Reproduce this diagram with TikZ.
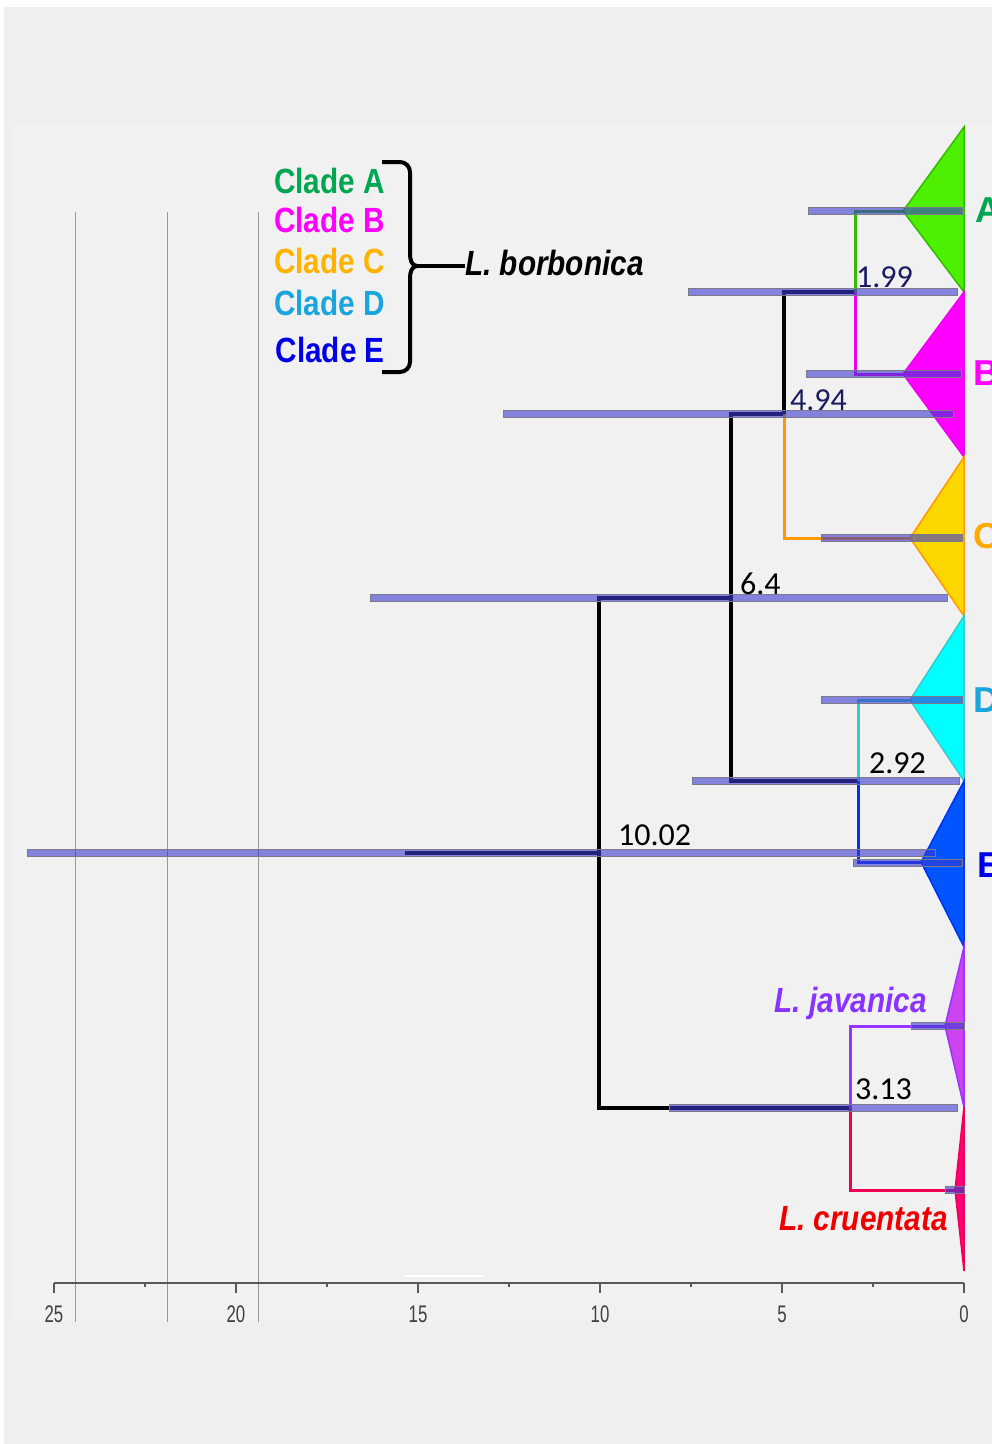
\documentclass[tikz,border=0pt]{standalone}
\usepackage{fontspec}
\setmainfont{Liberation Sans}
\newfontfamily\numfont{Carlito}
\usetikzlibrary{calc}

\definecolor{bggray}{HTML}{EFEFEF}
\definecolor{panel}{HTML}{F1F1F1}
\definecolor{hpdfill}{HTML}{3A3AD0}
\definecolor{hpdedge}{HTML}{7A7A8A}
\definecolor{navytext}{HTML}{1B1B63}
\definecolor{cladeA}{HTML}{00A651}
\definecolor{cladeB}{HTML}{FF00FF}
\definecolor{cladeC}{HTML}{FFAA00}
\definecolor{legC}{HTML}{FFB300}
\definecolor{cladeD}{HTML}{1AA6DC}
\definecolor{cladeE}{HTML}{0000E6}
\definecolor{javcol}{HTML}{8833FF}
\definecolor{crucol}{HTML}{EE0000}
% clade triangles and branches
\definecolor{fillA}{HTML}{4CF000}
\definecolor{lineA}{HTML}{33BB00}
\definecolor{fillB}{HTML}{FF00FF}
\definecolor{lineB}{HTML}{EE00EE}
\definecolor{fillC}{HTML}{FFD700}
\definecolor{lineC}{HTML}{FF9900}
\definecolor{fillD}{HTML}{00FFFF}
\definecolor{lineD}{HTML}{33CCCC}
\definecolor{fillE}{HTML}{0055FF}
\definecolor{lineE}{HTML}{0033EE}
\definecolor{fillJ}{HTML}{CC44EE}
\definecolor{lineJ}{HTML}{9933FF}
\definecolor{fillR}{HTML}{FF0077}
\definecolor{lineR}{HTML}{EE0055}

% HPD bar: height #1, from #2 to #3
\def\HPD#1#2#3{%
	\filldraw[hpd bar] (#2,#1-3.5) rectangle (#3,#1+3.5);
}
% collapsed clade: top, apex x, apex y, bottom, colour suffix
\def\Clade#1#2#3#4#5{%
	\filldraw[fill=fill#5, draw=line#5, line width=1.5pt] (964,#1) -- (#2,#3) -- (964,#4) -- cycle;
}
\def\Narrow#1{\scalebox{0.85}[1]{#1}}

\begin{document}
\begin{tikzpicture}[x=1pt, y=-1pt,
	branch/.style={line width=3.5pt, black},
	sub branch/.style={line width=3pt},
	hpd bar/.style={fill=hpdfill, fill opacity=0.6, draw=hpdedge, line width=0.8pt},
	grid line/.style={draw=black!40, line width=1pt},
	axis/.style={draw=black!65, line width=1.5pt},
	tick label/.style={anchor=base, text=black!75, font=\fontsize{24}{28}\selectfont},
	age/.style={anchor=base west, inner sep=0pt, font=\numfont\fontsize{32}{36}\selectfont},
	legend/.style={anchor=base east, inner sep=0pt, font=\bfseries\fontsize{35}{40}\selectfont},
	species/.style={inner sep=0pt, font=\bfseries\itshape\fontsize{35}{40}\selectfont},
	letter/.style={anchor=base west, inner sep=0pt, font=\bfseries\fontsize{36}{40}\selectfont}
]
\useasboundingbox (0,0) rectangle (992,1444);
\fill[white] (0,0) rectangle (992,1444);
\fill[bggray] (4,7) rectangle (992,1444);
\fill[panel] (13,125) rectangle (992,1322);

% grid lines
\foreach \gx in {75,167,258}
	\draw[grid line] (\gx,212) -- (\gx,1322);
\draw[white, line width=1.2pt] (405,1276) -- (483,1276);

% time axis
\draw[axis] (54,1283) -- (964,1283);
\foreach \t in {0,5,...,25} {
	\draw[axis] ({964-36.4*\t},1283) -- ++(0,10);
	\node[tick label] at ({964-36.4*\t},1322) {\scalebox{0.7}[1]{\t}};
}
\foreach \t in {2.5,7.5,...,22.5}
	\draw[axis] ({964-36.4*\t},1283) -- ++(0,4);

% nodes of the tree
\coordinate (stem) at (405,853);
\coordinate (root) at (599,853);
\coordinate (n64) at (731,598);
\coordinate (n494) at (784,414);
\coordinate (n199) at (855,292);
\coordinate (n292) at (858,781);
\coordinate (n313) at (850,1108);
\coordinate (tA) at (964,211);
\coordinate (tB) at (964,374);
\coordinate (tC) at (964,538);
\coordinate (tD) at (964,700);
\coordinate (tE) at (964,862);
\coordinate (tJ) at (964,1026);
\coordinate (tR) at (964,1190);

% branches
\draw[branch] (stem) -- (root);
\draw[branch] (root) |- (n64);
\draw[branch] (root) |- (n313);
\draw[branch] (n64) |- (n494);
\draw[branch] (n64) |- (n292);
\draw[branch] (n494) |- (n199);
\draw[sub branch, draw=lineC] (n494) |- (tC);
\draw[sub branch, draw=lineA] (n199) |- (tA);
\draw[sub branch, draw=lineB] (n199) |- (tB);
\draw[sub branch, draw=lineD] (n292) |- (tD);
\draw[sub branch, draw=lineE] (n292) |- (tE);
\draw[sub branch, draw=lineJ] (n313) |- (tJ);
\draw[sub branch, draw=lineR] (n313) |- (tR);

% collapsed clades
\Clade{127}{903}{211}{292}{A}
\Clade{292}{903}{374}{457}{B}
\Clade{457}{910}{538}{616}{C}
\Clade{616}{910}{700}{781}{D}
\Clade{781}{921}{862}{947}{E}
\Clade{947}{945}{1026}{1107}{J}
\Clade{1107}{955}{1190}{1271}{R}

% 95% HPD bars
\HPD{211}{808}{962}
\HPD{292}{688}{957}
\HPD{374}{806}{961}
\HPD{414}{503}{953}
\HPD{538}{821}{962}
\HPD{598}{370}{947}
\HPD{700}{821}{962}
\HPD{781}{692}{959}
\HPD{853}{27}{935}
\HPD{863}{853}{962}
\HPD{1026}{911}{964}
\HPD{1108}{669}{957}
\HPD{1190}{945}{964}

% node ages
\node[age, text=navytext] (l199) at (856,287) {1.99};
\node[age, text=navytext] (l494) at (790,410) {4.94};
\node[age] (l64) at (740,594) {6.4};
\node[age] (l292) at (869,773) {2.92};
\node[age] (l1002) at (618,845) {10.02};
\node[age] (l313) at (855,1099) {3.13};

% clade letters
\node[letter, text=cladeA] (cA) at (975,222) {A};
\node[letter, text=cladeB] (cB) at (973,385) {B};
\node[letter, text=cladeC] (cC) at (973,548) {C};
\node[letter, text=cladeD] (cD) at (973,712) {D};
\node[letter, text=cladeE] (cE) at (977,877) {E};

% species names
\node[species, anchor=base east, text=javcol] (jav) at (927,1012) {\Narrow{L. javanica}};
\node[species, anchor=base east, text=crucol] (cru) at (948,1230) {\Narrow{L. cruentata}};

% legend
\node[legend, text=cladeA] (legA) at (385,193) {\Narrow{Clade A}};
\node[legend, text=cladeB] (legB) at (385,232) {\Narrow{Clade B}};
\node[legend, text=legC] (legC) at (385,273) {\Narrow{Clade C}};
\node[legend, text=cladeD] (legD) at (385,315) {\Narrow{Clade D}};
\node[legend, text=cladeE] (legE) at (385,362) {\Narrow{Clade E}};
\node[species, anchor=base west] (borb) at (465,275) {\Narrow{L. borbonica}};
\coordinate (tip) at (417,266);
\draw[line width=4pt, black] (382,162) -- (400,162) to[out=0,in=90] (410,172) -- (410,254)
	to[out=-90,in=180] (tip) to[out=180,in=90] (410,278) -- (410,362)
	to[out=-90,in=0] (400,372) -- (382,372);
\draw[line width=4pt, black] (tip) -- (borb.west |- tip);
\end{tikzpicture}
\end{document}
